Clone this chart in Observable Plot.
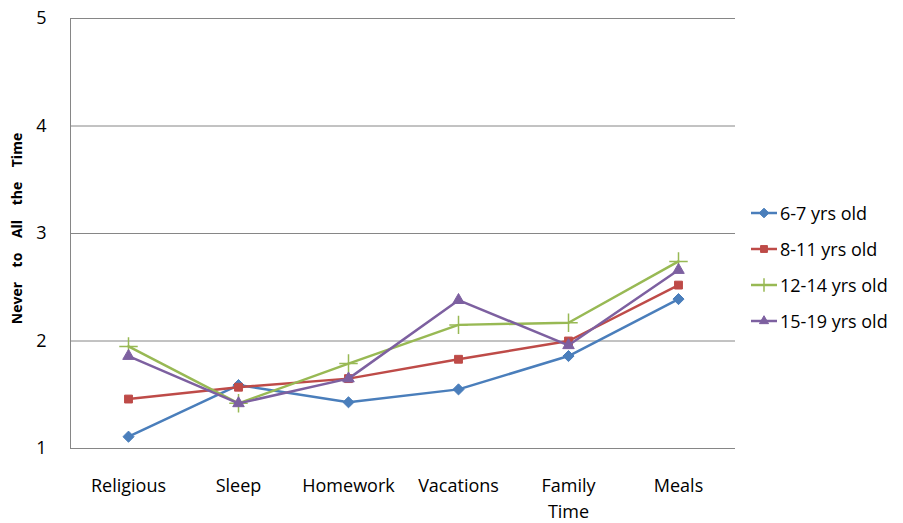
<!DOCTYPE html>
<html>
<head>
<meta charset="utf-8">
<script src="https://cdn.jsdelivr.net/npm/d3@7"></script>
<script src="https://cdn.jsdelivr.net/npm/@observablehq/plot@0.6"></script>
<style>
  body { margin: 0; background: #fff; font-family: "Open Sans", sans-serif; }
  #wrap { position: relative; width: 903px; height: 523px; }
  #legend { position: absolute; left: 750px; top: 195px; font-size: 18px; color: #000; }
  #legend .item { height: 36px; display: flex; align-items: center; white-space: nowrap; }
  #legend svg { margin-right: 2px; }
</style>
</head>
<body>
<div id="wrap"></div>
<script>
const categories = ["Religious", "Sleep", "Homework", "Vacations", "Family Time", "Meals"];
const seriesNames = ["6-7 yrs old", "8-11 yrs old", "12-14 yrs old", "15-19 yrs old"];
const age6to7   = [1.11, 1.59, 1.43, 1.55, 1.86, 2.39];
const age8to11  = [1.46, 1.57, 1.65, 1.83, 2.00, 2.52];
const age12to14 = [1.95, 1.42, 1.79, 2.15, 2.17, 2.74];
const age15to19 = [1.86, 1.42, 1.65, 2.38, 1.96, 2.66];
const yTicks = [1, 2, 3, 4, 5];
const colors = ["#4a7ebb", "#be4b48", "#98b954", "#7d60a0"];
const symbols = ["diamond2", "square2", "plus", "triangle2"];

const seriesValues = [age6to7, age8to11, age12to14, age15to19];
const data = seriesNames.flatMap((s, si) =>
  categories.map((c, ci) => ({series: s, category: c, value: seriesValues[si][ci]})));

const nb = "\u00a0";
const yTitle = ["Never", "to", "All", "the", "Time"].join(nb + nb + nb + nb);

const marks = [
  Plot.gridY(yTicks, {stroke: "#868686", strokeOpacity: 1, strokeWidth: 1}),
  Plot.frame({anchor: "left", stroke: "#868686"}),
  Plot.axisY(yTicks, {tickSize: 0, tickPadding: 24, fontSize: 18, fill: "#000", label: null, tickFormat: d3.format("d")}),
  Plot.axisX({tickSize: 0, tickPadding: 25, fontSize: 18, fill: "#000", label: null,
    tickFormat: d => d === "Family Time" ? "Family\nTime" : d, lineHeight: 1.45}),
  Plot.text([yTitle], {frameAnchor: "left", dx: -53, dy: -5, rotate: -90, textAnchor: "middle",
    fontSize: 14, fontWeight: "bold", fill: "#000"})
];
seriesNames.forEach((s, i) => {
  const d = data.filter(r => r.series === s);
  marks.push(Plot.line(d, {x: "category", y: "value", stroke: colors[i], strokeWidth: 2.5}));
  const sym = symbols[i];
  if (sym === "plus") {
    marks.push(Plot.dot(d, {x: "category", y: "value", symbol: "plus", r: 6, stroke: colors[i], strokeWidth: 1.5, fill: "none"}));
  } else {
    marks.push(Plot.dot(d, {x: "category", y: "value", symbol: sym, r: sym === "triangle2" ? 5.5 : 5, fill: colors[i], stroke: colors[i], strokeWidth: 1}));
  }
});

const chart = Plot.plot({
  width: 903, height: 523,
  marginLeft: 70, marginRight: 168, marginTop: 18, marginBottom: 75,
  style: {fontFamily: "'Open Sans', sans-serif", background: "#fff"},
  x: {type: "point", domain: categories, padding: 0.5, axis: null},
  y: {domain: [1, 5], axis: null},
  marks
});
document.getElementById("wrap").appendChild(chart);

const legend = document.createElement("div");
legend.id = "legend";
seriesNames.forEach((s, i) => {
  const item = document.createElement("div");
  item.className = "item";
  const sv = d3.create("svg").attr("width", 28).attr("height", 14);
  sv.append("line").attr("x1", 1).attr("x2", 27).attr("y1", 7).attr("y2", 7).attr("stroke", colors[i]).attr("stroke-width", 2.5);
  const sy = {diamond2: d3.symbolDiamond2, square2: d3.symbolSquare2, plus: d3.symbolPlus, triangle2: d3.symbolTriangle2}[symbols[i]];
  const p = sv.append("path").attr("transform", "translate(14,7)").attr("d", d3.symbol(sy, 60)());
  if (symbols[i] === "plus") p.attr("fill", "none").attr("stroke", colors[i]).attr("stroke-width", 1.5);
  else p.attr("fill", colors[i]).attr("stroke", colors[i]);
  item.appendChild(sv.node());
  const t = document.createElement("span");
  t.textContent = s;
  item.appendChild(t);
  legend.appendChild(item);
});
document.getElementById("wrap").appendChild(legend);
</script>
</body>
</html>
